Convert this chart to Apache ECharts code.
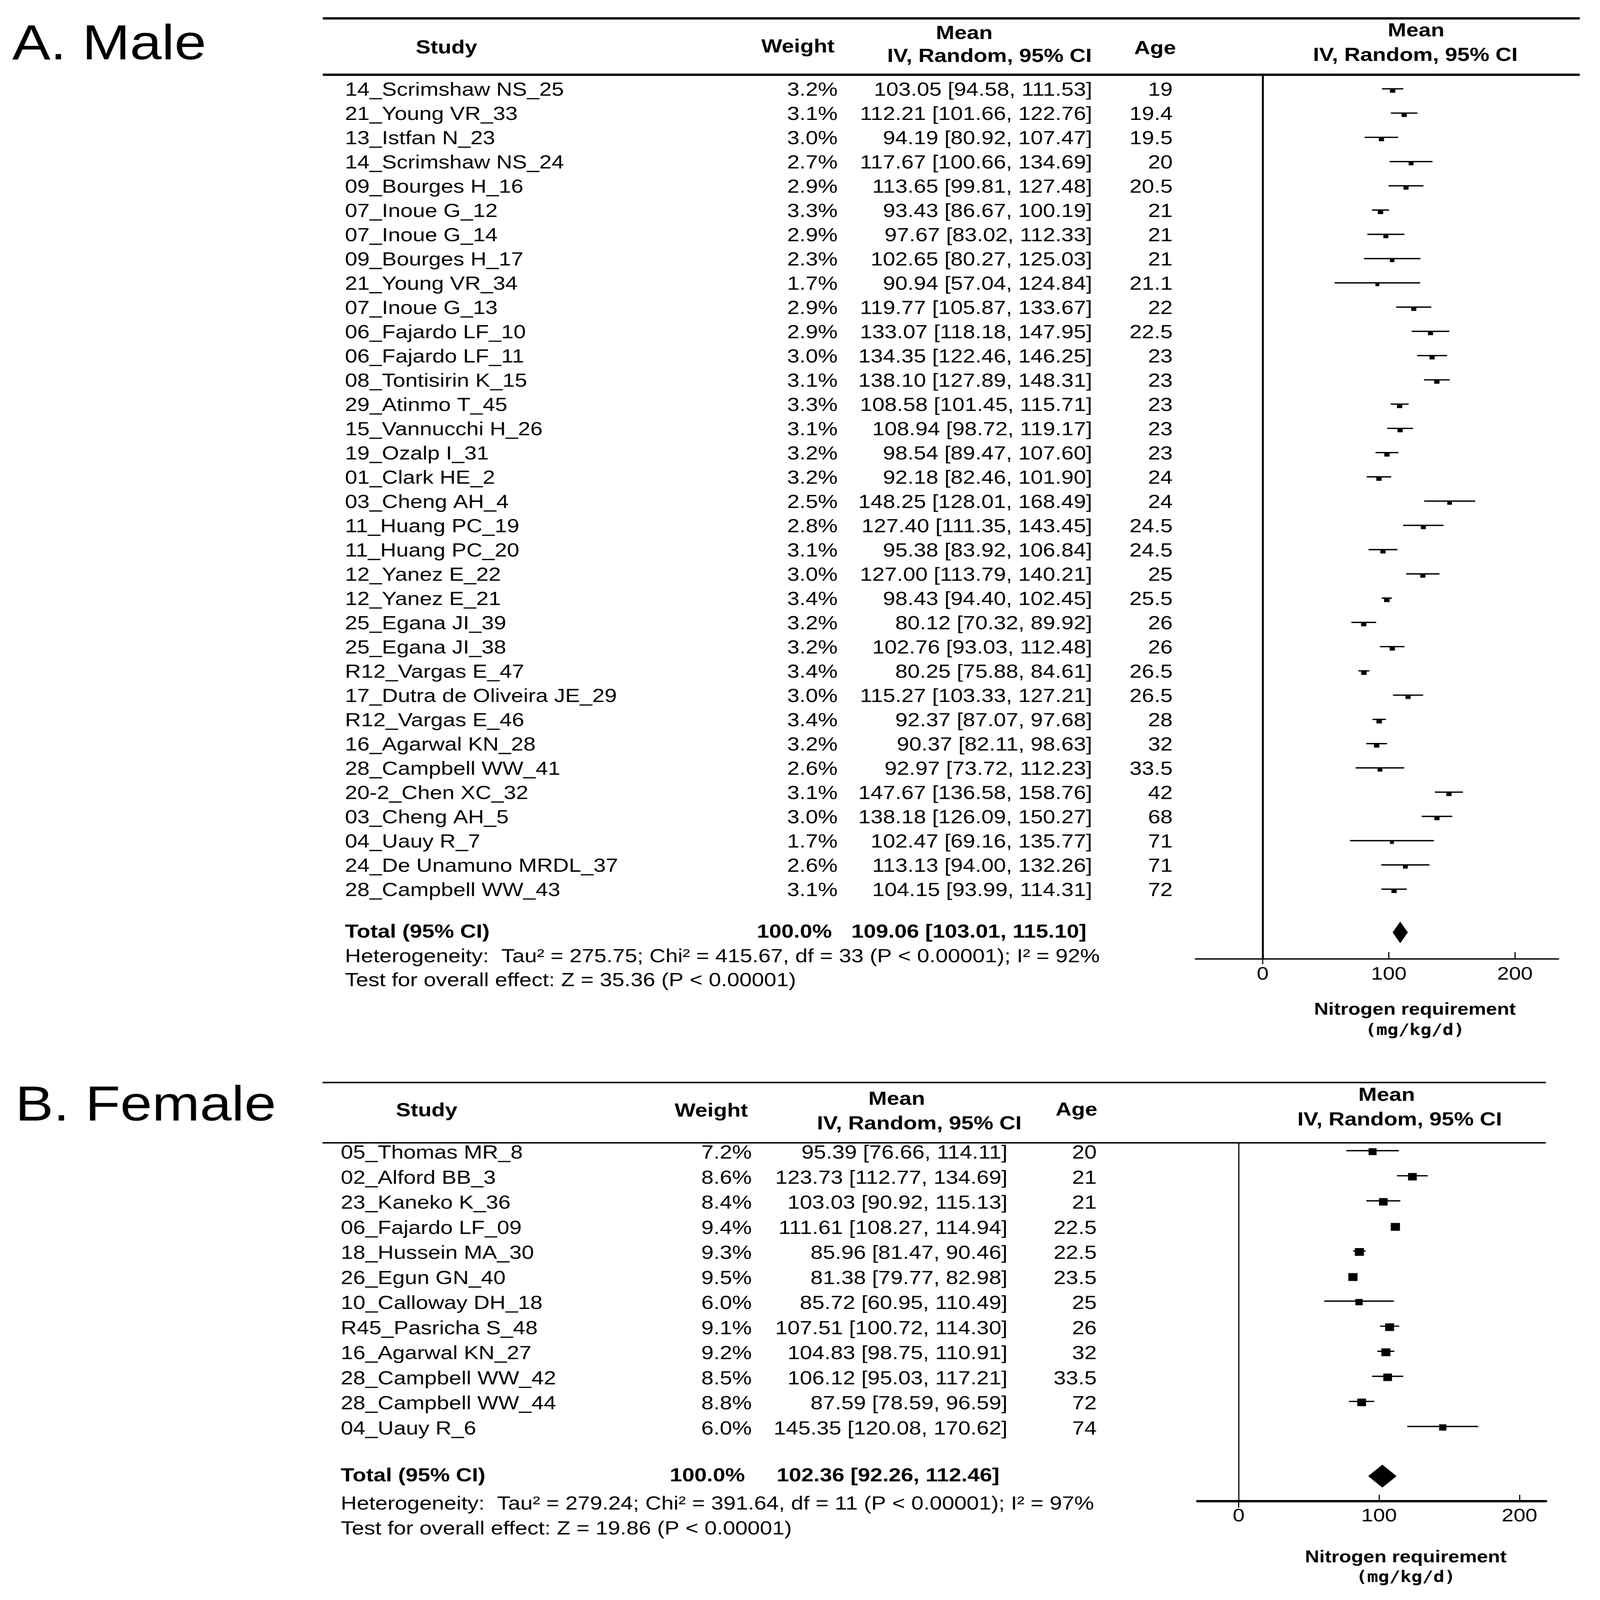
<!DOCTYPE html>
<html><head><meta charset="utf-8">
<script src="https://cdn.jsdelivr.net/npm/echarts@6/dist/echarts.min.js"></script>
<style>
html,body{margin:0;padding:0;background:#fff;overflow:hidden;width:100%;height:100%}
#wrap{position:absolute;left:0;top:0;width:4193px;height:4882px;transform-origin:0 0}
#c{width:4193px;height:4882px}
</style>
</head><body><div id="wrap"><div id="c"></div></div>
<script>
// ---------------- DATA ----------------
const maleStudies = ['14_Scrimshaw NS_25','21_Young VR_33','13_Istfan N_23','14_Scrimshaw NS_24','09_Bourges H_16','07_Inoue G_12','07_Inoue G_14','09_Bourges H_17','21_Young VR_34','07_Inoue G_13','06_Fajardo LF_10','06_Fajardo LF_11','08_Tontisirin K_15','29_Atinmo T_45','15_Vannucchi H_26','19_Ozalp I_31','01_Clark HE_2','03_Cheng AH_4','11_Huang PC_19','11_Huang PC_20','12_Yanez E_22','12_Yanez E_21','25_Egana JI_39','25_Egana JI_38','R12_Vargas E_47','17_Dutra de Oliveira JE_29','R12_Vargas E_46','16_Agarwal KN_28','28_Campbell WW_41','20-2_Chen XC_32','03_Cheng AH_5','04_Uauy R_7','24_De Unamuno MRDL_37','28_Campbell WW_43'];
const maleWeights = [3.2,3.1,3.0,2.7,2.9,3.3,2.9,2.3,1.7,2.9,2.9,3.0,3.1,3.3,3.1,3.2,3.2,2.5,2.8,3.1,3.0,3.4,3.2,3.2,3.4,3.0,3.4,3.2,2.6,3.1,3.0,1.7,2.6,3.1];
const maleMeans = [103.05,112.21,94.19,117.67,113.65,93.43,97.67,102.65,90.94,119.77,133.07,134.35,138.10,108.58,108.94,98.54,92.18,148.25,127.40,95.38,127.00,98.43,80.12,102.76,80.25,115.27,92.37,90.37,92.97,147.67,138.18,102.47,113.13,104.15];
const maleLower = [94.58,101.66,80.92,100.66,99.81,86.67,83.02,80.27,57.04,105.87,118.18,122.46,127.89,101.45,98.72,89.47,82.46,128.01,111.35,83.92,113.79,94.40,70.32,93.03,75.88,103.33,87.07,82.11,73.72,136.58,126.09,69.16,94.00,93.99];
const maleUpper = [111.53,122.76,107.47,134.69,127.48,100.19,112.33,125.03,124.84,133.67,147.95,146.25,148.31,115.71,119.17,107.60,101.90,168.49,143.45,106.84,140.21,102.45,89.92,112.48,84.61,127.21,97.68,98.63,112.23,158.76,150.27,135.77,132.26,114.31];
const maleAges = ['19','19.4','19.5','20','20.5','21','21','21','21.1','22','22.5','23','23','23','23','23','24','24','24.5','24.5','25','25.5','26','26','26.5','26.5','28','32','33.5','42','68','71','71','72'];
const maleTotal = [109.06, 103.01, 115.10];
const maleTotalWeight = 100.0;
const maleHet = 'Heterogeneity:  Tau\u00b2 = 275.75; Chi\u00b2 = 415.67, df = 33 (P < 0.00001); I\u00b2 = 92%';
const maleTest = 'Test for overall effect: Z = 35.36 (P < 0.00001)';

const femaleStudies = ['05_Thomas MR_8','02_Alford BB_3','23_Kaneko K_36','06_Fajardo LF_09','18_Hussein MA_30','26_Egun GN_40','10_Calloway DH_18','R45_Pasricha S_48','16_Agarwal KN_27','28_Campbell WW_42','28_Campbell WW_44','04_Uauy R_6'];
const femaleWeights = [7.2,8.6,8.4,9.4,9.3,9.5,6.0,9.1,9.2,8.5,8.8,6.0];
const femaleMeans = [95.39,123.73,103.03,111.61,85.96,81.38,85.72,107.51,104.83,106.12,87.59,145.35];
const femaleLower = [76.66,112.77,90.92,108.27,81.47,79.77,60.95,100.72,98.75,95.03,78.59,120.08];
const femaleUpper = [114.11,134.69,115.13,114.94,90.46,82.98,110.49,114.30,110.91,117.21,96.59,170.62];
const femaleAges = ['20','21','21','22.5','22.5','23.5','25','26','32','33.5','72','74'];
const femaleTotal = [102.36, 92.26, 112.46];
const femaleTotalWeight = 100.0;
const femaleHet = 'Heterogeneity:  Tau\u00b2 = 279.24; Chi\u00b2 = 391.64, df = 11 (P < 0.00001); I\u00b2 = 97%';
const femaleTest = 'Test for overall effect: Z = 19.86 (P < 0.00001)';

const axisTicks = [0, 100, 200];
const headerLabels = ['Study', 'Weight', 'Mean', 'IV, Random, 95% CI', 'Age', 'Mean', 'IV, Random, 95% CI'];
const axisTitle = ['Nitrogen requirement', '(mg/kg/d)'];

// ---------------- LAYOUT ----------------
const W = 4193, H = 4882;
const FONT = "'Liberation Sans', Arial, Helvetica, sans-serif";
const MONO = "'DejaVu Sans Mono', 'Liberation Mono', monospace";
const panels = [
  { title: 'A. Male', titleX: 32, titleY: 140,
    studies: maleStudies, weights: maleWeights, means: maleMeans, lower: maleLower, upper: maleUpper, ages: maleAges,
    total: maleTotal, totalWeight: maleTotalWeight, het: maleHet, test: maleTest,
    lineTop: 56, lineHead: 228, lineL: 846, lineR: 4140, lineW: 7,
    rowY0: 276, rowStep: 74, axisY: 2926, totalY: 2845, textDy: 0,
    zeroPx: 3309, pxPerUnit: 3.305, forestLeft: 3133, forestRight: 4084,
    colStudy: 904, colWeight: 2195, colMean: 2862, colAge: 3073,
    totWeightR: 2180, totMeanR: 2847,
    hetY: 2920, testY: 2993,
    headerPos: [[1170,147],[2091,144],[2527,103],[2593,173],[3027,149],[3711,95],[3709,170]],
    axisTitleX: 3708, axisTitleY: [3082, 3146],
    axisW: 4, vlineW: 5, ciW: 4, ciOff: 5, diamondH: 33, tickLen: 21, labelMargin: 20, zeroExt: 16
  },
  { title: 'B. Female', titleX: 40, titleY: 3378,
    studies: femaleStudies, weights: femaleWeights, means: femaleMeans, lower: femaleLower, upper: femaleUpper, ages: femaleAges,
    total: femaleTotal, totalWeight: femaleTotalWeight, het: femaleHet, test: femaleTest,
    lineTop: 3303, lineHead: 3487, lineL: 845, lineR: 4051, lineW: 4.5,
    rowY0: 3514, rowStep: 76.5, axisY: 4580, totalY: 4504, textDy: 5,
    zeroPx: 3246, pxPerUnit: 3.68, forestLeft: 3138, forestRight: 4051,
    colStudy: 893, colWeight: 1970, colMean: 2640, colAge: 2874,
    totWeightR: 1952, totMeanR: 2619,
    hetY: 4590, testY: 4666,
    headerPos: [[1118,3390],[1864,3391],[2350,3355],[2409,3430],[2821,3388],[3634,3343],[3668,3418]],
    axisTitleX: 3684, axisTitleY: [4753, 4815],
    axisW: 7, vlineW: 3, ciW: 4, ciOff: 3, diamondH: 35, tickLen: 19, labelMargin: 19, zeroExt: 20
  }
];

// fit the full figure into the browser viewport
(function fit() {
  const sx = Math.min(1, window.innerWidth / W), sy = Math.min(1, window.innerHeight / H);
  document.getElementById('wrap').style.transform = 'scale(' + sx + ',' + sy + ')';
})();

const TEXT_W = 3300;
const grid = [], xAxis = [], yAxis = [], series = [], graphic = [];

function txt(x, y, text, size, bold, align, family) {
  return { type: 'text', x: x, y: y, silent: true,
    style: { text: text, fontSize: size, fontFamily: family || FONT, fontWeight: bold ? 'bold' : 'normal', fill: '#000',
      align: align, textAlign: align, verticalAlign: 'middle', textVerticalAlign: 'middle' } };
}
function ln(x1, y1, x2, y2, w) {
  return { type: 'line', silent: true, shape: { x1, y1, x2, y2 }, style: { stroke: '#000', lineWidth: w } };
}

panels.forEach((p, k) => {
  const yMin = (p.lineHead - p.rowY0) / p.rowStep;
  const yMax = (p.axisY - p.rowY0) / p.rowStep;
  const totalRow = (p.totalY - p.rowY0) / p.rowStep;
  const xMin = (p.forestLeft - p.zeroPx) / p.pxPerUnit;
  const xMax = (p.forestRight - p.zeroPx) / p.pxPerUnit;
  const gh = p.axisY - p.lineHead;
  const gT = k * 2, gF = k * 2 + 1;

  grid.push({ left: 0, top: p.lineHead, width: TEXT_W, height: gh, containLabel: false });
  grid.push({ left: p.forestLeft, top: p.lineHead, width: p.forestRight - p.forestLeft, height: gh, containLabel: false });

  xAxis.push({ type: 'value', gridIndex: gT, min: 0, max: TEXT_W, show: false });
  xAxis.push({ type: 'value', gridIndex: gF, min: xMin, max: xMax, position: 'bottom',
    axisLine: { show: true, onZero: false, lineStyle: { color: '#000', width: p.axisW } },
    axisTick: { show: true, inside: true, length: p.tickLen, customValues: axisTicks, lineStyle: { color: '#000', width: 3 } },
    axisLabel: { show: true, customValues: axisTicks, margin: p.labelMargin, fontSize: 56, fontFamily: FONT, color: '#000' },
    splitLine: { show: false } });

  yAxis.push({ type: 'value', gridIndex: gT, inverse: true, min: yMin, max: yMax, show: false });
  yAxis.push({ type: 'value', gridIndex: gF, inverse: true, min: yMin, max: yMax,
    axisLine: { show: true, onZero: true, lineStyle: { color: '#000', width: p.vlineW } },
    axisTick: { show: false }, axisLabel: { show: false }, splitLine: { show: false } });

  series.push({ type: 'custom', xAxisIndex: gT, yAxisIndex: gT, encode: { x: 0, y: 1 },
    data: p.studies.map((s, i) => [0, i]),
    renderItem: (params, api) => {
      const i = params.dataIndex, row = api.value(1);
      const y = api.coord([0, row])[1] + p.textDy;
      const X = v => api.coord([v, row])[0];
      return { type: 'group', children: [
        txt(X(p.colStudy), y, p.studies[i], 58, false, 'left'),
        txt(X(p.colWeight), y, p.weights[i].toFixed(1) + '%', 58, false, 'right'),
        txt(X(p.colMean), y, p.means[i].toFixed(2) + ' [' + p.lower[i].toFixed(2) + ', ' + p.upper[i].toFixed(2) + ']', 58, false, 'right'),
        txt(X(p.colAge), y, p.ages[i], 58, false, 'right')
      ] };
    } });
  series.push({ type: 'custom', xAxisIndex: gT, yAxisIndex: gT, encode: { x: 0, y: 1 },
    data: [[0, totalRow]],
    renderItem: (params, api) => {
      const row = api.value(1);
      const y = api.coord([0, row])[1];
      const X = v => api.coord([v, row])[0];
      const t = p.total;
      return { type: 'group', children: [
        txt(X(p.colStudy), y, 'Total (95% CI)', 58, true, 'left'),
        txt(X(p.totWeightR), y, p.totalWeight.toFixed(1) + '%', 58, true, 'right'),
        txt(X(p.totMeanR), y, t[0].toFixed(2) + ' [' + t[1].toFixed(2) + ', ' + t[2].toFixed(2) + ']', 58, true, 'right')
      ] };
    } });
  series.push({ type: 'custom', xAxisIndex: gF, yAxisIndex: gF, encode: { x: [0, 1, 2], y: 3 },
    data: p.means.map((m, i) => [m, p.lower[i], p.upper[i], i, p.weights[i]]),
    renderItem: (params, api) => {
      const row = api.value(3);
      const c = api.coord([api.value(0), row]);
      const l = api.coord([api.value(1), row]);
      const h = api.coord([api.value(2), row]);
      const s = 7.8 * Math.sqrt(api.value(4));
      return { type: 'group', children: [
        { type: 'line', shape: { x1: l[0], y1: l[1] - p.ciOff, x2: h[0], y2: h[1] - p.ciOff }, style: { stroke: '#000', lineWidth: p.ciW } },
        { type: 'rect', shape: { x: c[0] - s / 2, y: c[1] - s / 2, width: s, height: s }, style: { fill: '#000' } }
      ] };
    } });
  series.push({ type: 'custom', xAxisIndex: gF, yAxisIndex: gF, encode: { x: [0, 1, 2], y: 3 },
    data: [[p.total[0], p.total[1], p.total[2], totalRow]],
    renderItem: (params, api) => {
      const row = api.value(3);
      const c = api.coord([api.value(0), row]);
      const l = api.coord([api.value(1), row]);
      const h = api.coord([api.value(2), row]);
      const d = p.diamondH;
      return { type: 'polygon', shape: { points: [[l[0], l[1]], [c[0], c[1] - d], [h[0], h[1]], [c[0], c[1] + d]] }, style: { fill: '#000' } };
    } });

  graphic.push(txt(p.titleX, p.titleY, p.title, 150, false, 'left'));
  graphic.push(ln(p.lineL, p.lineTop, p.lineR, p.lineTop, p.lineW));
  graphic.push(ln(p.lineL, p.lineHead, p.lineR, p.lineHead, p.lineW));
  headerLabels.forEach((h, j) => graphic.push(txt(p.headerPos[j][0], p.headerPos[j][1], h, 58, true, 'center')));
  graphic.push(txt(p.colStudy, p.hetY, p.het, 58, false, 'left'));
  graphic.push(txt(p.colStudy, p.testY, p.test, 58, false, 'left'));
  graphic.push(txt(p.axisTitleX, p.axisTitleY[0], axisTitle[0], 52, true, 'center'));
  graphic.push(txt(p.axisTitleX, p.axisTitleY[1], axisTitle[1], 48, true, 'center', MONO));
  graphic.push(ln(p.zeroPx, p.axisY, p.zeroPx, p.axisY + p.zeroExt, 3));
});

const chart = echarts.init(document.getElementById('c'), null, { renderer: 'canvas', width: W, height: H });
chart.setOption({ backgroundColor: '#fff', animation: false, grid, xAxis, yAxis, series, graphic: { elements: graphic } });
</script></body></html>
